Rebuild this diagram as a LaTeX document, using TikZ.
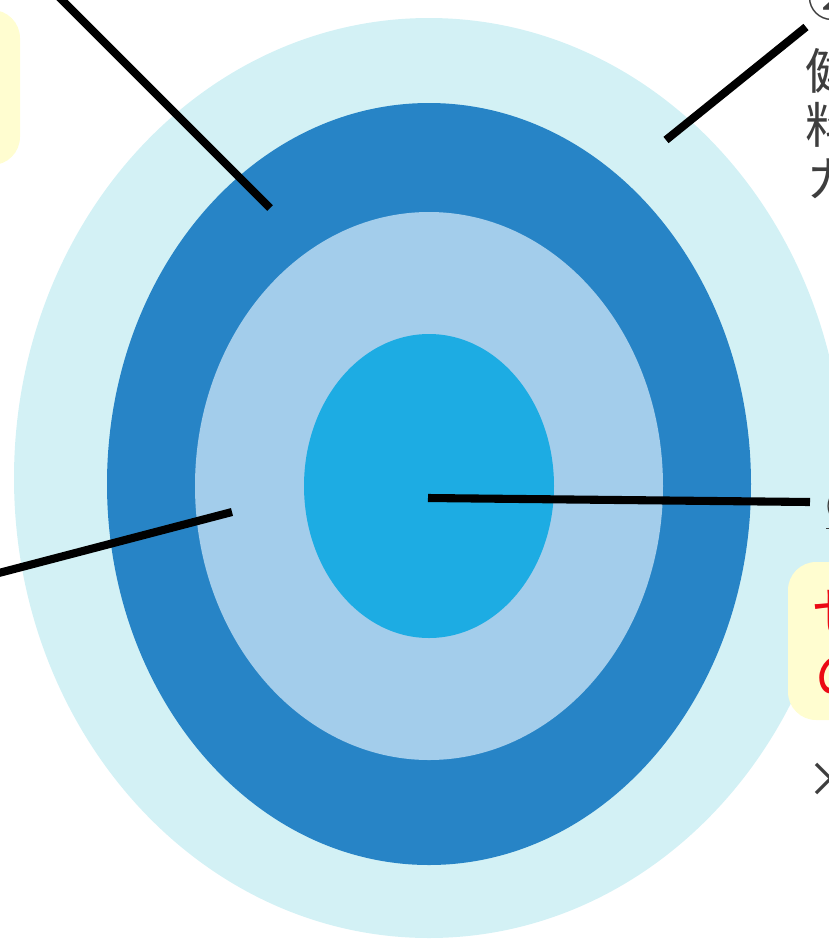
\documentclass[tikz,border=0pt]{standalone}
\usepackage{fontspec}
\newfontfamily\jpfont{Noto Sans CJK JP}
\usetikzlibrary{positioning}
\definecolor{skyring}{RGB}{211,241,245}
\definecolor{deepring}{RGB}{39,132,198}
\definecolor{paleblue}{RGB}{163,205,235}
\definecolor{corering}{RGB}{29,172,227}
\definecolor{notepad}{RGB}{255,253,208}
\definecolor{inkgray}{RGB}{62,62,62}
\definecolor{alertred}{RGB}{235,10,20}
\tikzset{
  leader/.style={line width=4.6pt,black},
  jptext/.style={font=\jpfont\fontsize{28}{31}\selectfont,inner sep=0pt,anchor=west,text=inkgray},
  redtext/.style={jptext,font=\jpfont\fontsize{34}{38}\selectfont,text=alertred}
}

\begin{document}
\begin{tikzpicture}[x=0.02cm,y=-0.02cm]
  \useasboundingbox (0,0) rectangle (829,941);
  \clip (0,0) rectangle (829,941);
  % left note box (cut off)
  \fill[notepad,rounded corners=16] (-40,10) rectangle (20,165);
  % the rings, outer to inner
  \foreach \c/\cy/\rx/\ry in {skyring/478/415/460,deepring/484/322/381,paleblue/486/234/274,corering/486/125/152}
    \fill[\c] (429,\cy) ellipse [x radius=\rx,y radius=\ry];
  % right note box (cut off)
  \fill[notepad,rounded corners=16] (788,562) rectangle (880,720);
  % labels at the edges
  \node[jptext,anchor=center] (numTop) at (832,-2) {②};
  \node[jptext] (feeA) at (805,71) {健};
  \node[jptext] (feeB) at (805,125) {料};
  \node[jptext] (feeC) at (806,179) {カ};
  \node[jptext,font=\jpfont\fontsize{24}{28}\selectfont] (keyA) at (826,508) {\underline{⑥}};
  \node[redtext] (keyB) at (812,612) {せ};
  \node[redtext] (keyC) at (814,676) {の};
  \node[jptext] (noteX) at (806,780) {×};
  % ends of the leader lines
  \coordinate (topLeft) at (55,-7);
  \coordinate (onDeep) at (270,208);
  \coordinate (onSky) at (666,140);
  \coordinate (topRight) at (806,27);
  \coordinate (onPale) at (232,512);
  \coordinate (farLeft) at (-5,574);
  \coordinate (onCore) at (428,498);
  \coordinate (midRight) at (810,502);
  % leader lines
  \draw[leader] (topLeft) -- (onDeep);
  \draw[leader] (onSky) -- (topRight);
  \draw[leader] (onPale) -- (farLeft);
  \draw[leader] (onCore) -- (midRight);
\end{tikzpicture}
\end{document}
